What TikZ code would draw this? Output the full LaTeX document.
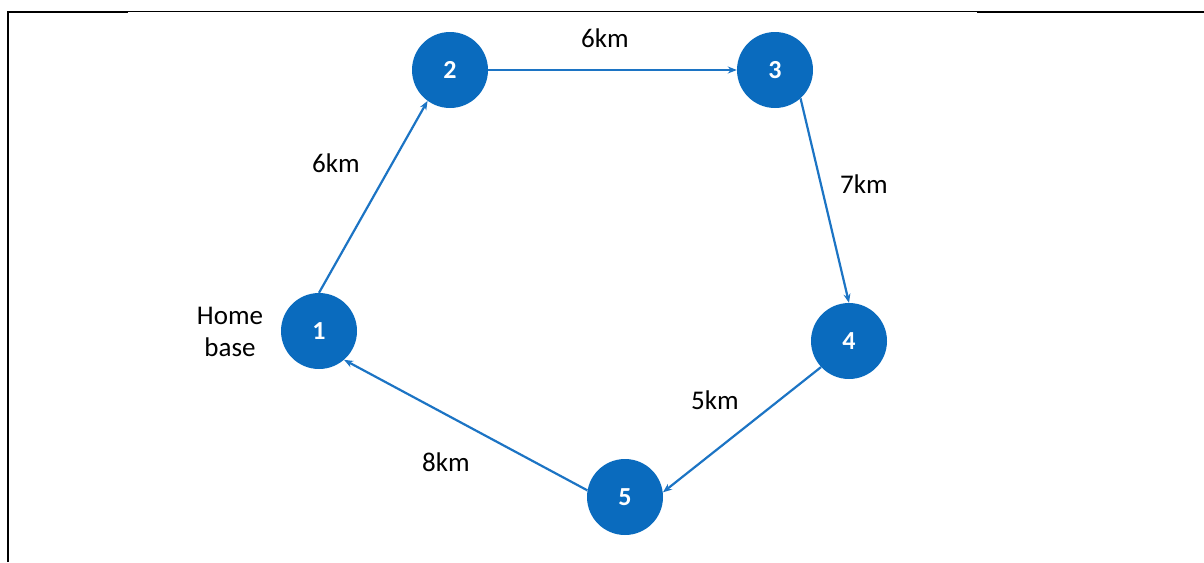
\documentclass[tikz,border=0pt]{standalone}
\usepackage{fontspec}
\setmainfont{Carlito}
\usetikzlibrary{arrows.meta}
\definecolor{nodeblue}{HTML}{0A6BBE}
\definecolor{edgeblue}{HTML}{1C74C4}
\begin{document}
\begin{tikzpicture}[x=1pt,y=-1pt,
  stop/.style={circle,fill=nodeblue,minimum size=76pt,inner sep=0pt,text=white,font=\fontsize{26}{30}\selectfont\bfseries},
  road/.style={draw=edgeblue,line width=2.2pt,-{Stealth[length=9pt,width=7pt]}},
  dist/.style={font=\fontsize{27}{33}\selectfont,text=black},
  frame/.style={line width=2.4pt,black}]
\useasboundingbox (0,0) rectangle (1204,562);
% frame lines
\draw[frame] (8,562) -- (8,12) -- (128,12);
\draw[black,line width=1.2pt] (128,11.5) -- (977,11.5);
\draw[frame] (977,12) -- (1204,12);
% nodes
\node[stop] (n1) at (319,331) {1};
\node[stop] (n2) at (450,70) {2};
\node[stop] (n3) at (775,70) {3};
\node[stop] (n4) at (849,341) {4};
\node[stop] (n5) at (625,497) {5};
% connectors
\draw[road] (n1.north) -- (n2.234);
\draw[road] (n2.east) -- (n3.west);
\draw[road] (n3.312) -- (n4.north);
\draw[road] (n4.223) -- (n5.7);
\draw[road] (n5.170) -- (n1.311);
% labels
\node[dist] (l12) at (336,163) {6km};
\node[dist] (l23) at (605,38) {6km};
\node[dist] (l34) at (864,184) {7km};
\node[dist] (l45) at (715,400) {5km};
\node[dist] (l51) at (446,462) {8km};
\node[dist,align=center] (home) at (230,332) {Home\\[-1pt]base};
\end{tikzpicture}
\end{document}
